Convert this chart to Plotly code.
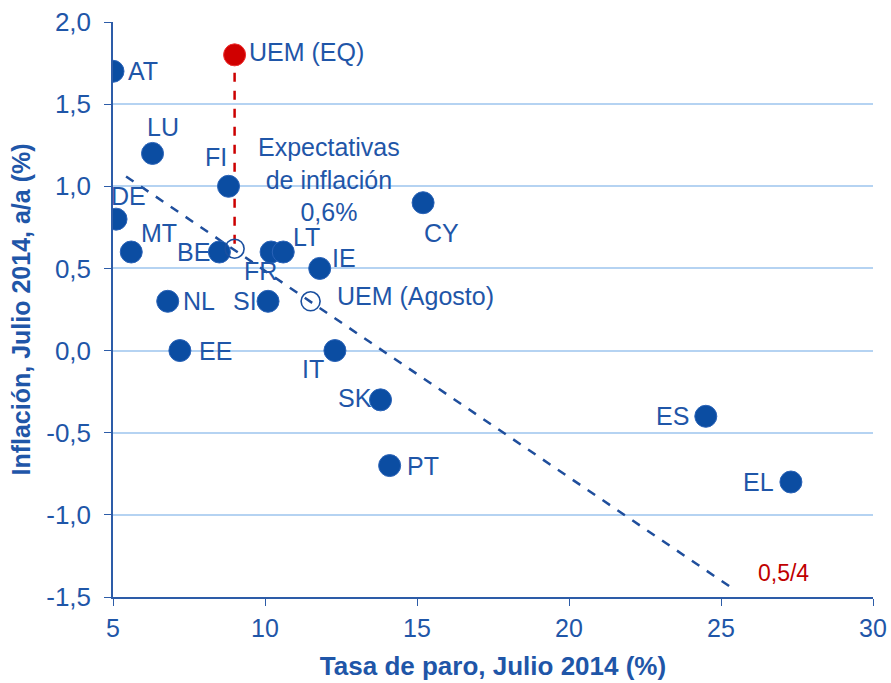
"""
Inflación vs tasa de paro, zona euro (julio 2014)
"""

import plotly.graph_objects as go

# Datos por país
countries = ['AT', 'LU', 'FI', 'DE', 'MT', 'BE', 'FR', 'LT', 'IE',
             'NL', 'SI', 'EE', 'IT', 'SK', 'PT', 'CY', 'ES', 'EL']
unemployment = [5.0, 6.3, 8.8, 5.1, 5.6, 8.5, 10.2, 10.6, 11.8,
                6.8, 10.1, 7.2, 12.3, 13.8, 14.1, 15.2, 24.5, 27.3]
inflation = [1.7, 1.2, 1.0, 0.8, 0.6, 0.6, 0.6, 0.6, 0.5,
             0.3, 0.3, 0.0, 0.0, -0.3, -0.7, 0.9, -0.4, -0.8]

# Agregados UEM
uem_eq_x = [9.0]
uem_eq_y = [1.8]
expect_x = [9.0]
expect_y = [0.62]
uem_aug_x = [11.5]
uem_aug_y = [0.3]

# Recta de tendencia (extremos)
trend_x = [5.43, 25.4]
trend_y = [1.06, -1.45]

# Ejes
x_ticks = [5, 10, 15, 20, 25, 30]
y_ticks = [-1.5, -1.0, -0.5, 0.0, 0.5, 1.0, 1.5, 2.0]
y_tick_labels = ['-1,5', '-1,0', '-0,5', '0,0', '0,5', '1,0', '1,5', '2,0']

# Posición de las etiquetas respecto al punto (xanchor, xshift, yshift)
LABEL_POS = {
    'AT': ('left', 13, 0), 'LU': ('center', 10, 26), 'FI': ('center', -13, 29),
    'DE': ('center', 12, 23), 'MT': ('left', 8, 19), 'BE': ('right', -7, 0),
    'FR': ('center', -11, -19), 'LT': ('left', 8, 15), 'IE': ('left', 10, 10),
    'NL': ('left', 13, 0), 'SI': ('right', -9, 0), 'EE': ('left', 17, 0),
    'IT': ('center', -22, -18), 'SK': ('right', -7, 2), 'PT': ('left', 15, 0),
    'CY': ('center', 18, -30), 'ES': ('right', -15, 0), 'EL': ('right', -15, 0),
}

BLUE = '#0b4da2'
TEXT = '#1f56a8'
RED = '#d00000'
FONT = 'Liberation Sans, Arial, sans-serif'
LABEL_SIZE = 25

fig = go.Figure()

# Tendencia
fig.add_trace(go.Scatter(
    x=trend_x, y=trend_y, mode='lines',
    line=dict(color='#1f4e9c', width=2.5, dash='dash'),
    hoverinfo='skip'
))

# Línea de expectativas (roja)
fig.add_trace(go.Scatter(
    x=uem_eq_x + expect_x, y=uem_eq_y + expect_y, mode='lines',
    line=dict(color='#cc0000', width=2.5, dash='dash'),
    hoverinfo='skip'
))

# Países
fig.add_trace(go.Scatter(
    x=unemployment, y=inflation, mode='markers',
    marker=dict(color=BLUE, size=22, line=dict(color='#2a63b8', width=1)),
    text=countries,
    hovertemplate='%{text}: %{x:.1f}%, %{y:.1f}%<extra></extra>'
))

# Puntos vacíos (expectativas y UEM agosto)
fig.add_trace(go.Scatter(
    x=expect_x + uem_aug_x, y=expect_y + uem_aug_y, mode='markers',
    marker=dict(color='rgba(0,0,0,0)', size=19, line=dict(color='#1a4f9f', width=1.6)),
    hoverinfo='skip'
))

# UEM (EQ)
fig.add_trace(go.Scatter(
    x=uem_eq_x, y=uem_eq_y, mode='markers',
    marker=dict(color=RED, size=22, line=dict(color='#ee3030', width=1)),
    hoverinfo='skip'
))

# Etiquetas de países
for c, x, y in zip(countries, unemployment, inflation):
    anchor, dx, dy = LABEL_POS[c]
    fig.add_annotation(x=x, y=y, text=c, showarrow=False,
                       xanchor=anchor, yanchor='middle', xshift=dx, yshift=dy,
                       font=dict(size=LABEL_SIZE, color=TEXT, family=FONT))

fig.add_annotation(x=uem_eq_x[0], y=uem_eq_y[0], text='UEM (EQ)', showarrow=False,
                   xanchor='left', yanchor='middle', xshift=12, yshift=3,
                   font=dict(size=LABEL_SIZE, color=TEXT, family=FONT))
fig.add_annotation(x=uem_aug_x[0], y=uem_aug_y[0], text='UEM (Agosto)', showarrow=False,
                   xanchor='left', yanchor='middle', xshift=24, yshift=5,
                   font=dict(size=LABEL_SIZE, color=TEXT, family=FONT))
fig.add_annotation(x=expect_x[0], y=expect_y[0], text='Expectativas<br>de inflación<br>0,6%',
                   showarrow=False, xanchor='center', yanchor='middle', xshift=94, yshift=69,
                   font=dict(size=LABEL_SIZE, color=TEXT, family=FONT))
fig.add_annotation(x=trend_x[1], y=trend_y[1], text='0,5/4', showarrow=False,
                   xanchor='center', yanchor='middle', xshift=50, yshift=16,
                   font=dict(size=23, color='#c00000', family=FONT))

fig.update_layout(
    width=891, height=683,
    margin=dict(l=113, r=18, t=22, b=86),
    plot_bgcolor='white', paper_bgcolor='white',
    separators=',.',
    showlegend=False,
    font=dict(family=FONT, color=TEXT),
    xaxis=dict(
        range=[5, 30], tickvals=x_ticks, automargin=False,
        showgrid=False, zeroline=False,
        showline=True, linecolor='#2d5ca8', linewidth=1.5,
        ticks='outside', ticklen=7, tickcolor='#2d5ca8', ticklabelstandoff=1,
        ticklabeloverflow='allow',
        tickfont=dict(size=25, color=TEXT, family=FONT),
        title=dict(text='<b>Tasa de paro, Julio 2014 (%)</b>', standoff=16,
                   font=dict(size=26, color=TEXT, family=FONT)),
    ),
    yaxis=dict(
        range=[-1.5, 2.0], tickvals=y_ticks, ticktext=y_tick_labels, automargin=False,
        showgrid=True, gridcolor='#b5d3f2', gridwidth=1.5, zeroline=False,
        showline=True, linecolor='#2d5ca8', linewidth=1.5,
        ticks='outside', ticklen=7, tickcolor='#2d5ca8', ticklabelstandoff=8,
        ticklabeloverflow='allow',
        tickfont=dict(size=26, color=TEXT, family=FONT),
        title=dict(text='<b>Inflación, Julio 2014, a/a (%)</b>', standoff=8,
                   font=dict(size=25, color=TEXT, family=FONT)),
    ),
)

# quitar el margen por defecto del body para que la figura ocupe la ventana
fig.write_html("out.html", config={'displayModeBar': False},
               post_script="document.body.style.margin='0';")
